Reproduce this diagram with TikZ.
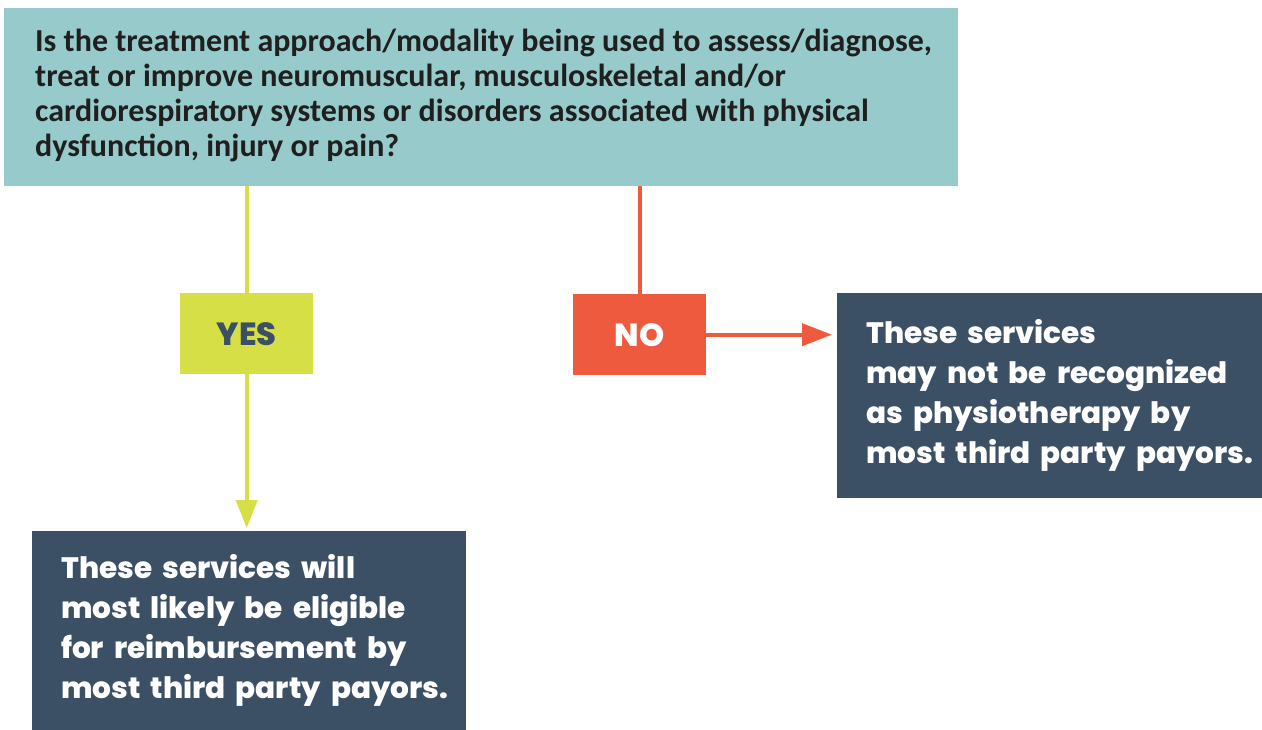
\documentclass[tikz,border=0pt]{standalone}
\usepackage{fontspec}
\usetikzlibrary{arrows.meta}
\newfontfamily\qfont{Carlito}
\newfontfamily\pfont{Poppins ExtraBold}[WordSpace=1.8]
\definecolor{qteal}{HTML}{97CACB}
\definecolor{yesgreen}{HTML}{D6DF45}
\definecolor{nored}{HTML}{EE5A3D}
\definecolor{navy}{HTML}{3C5065}
% left-aligned block of fixed width whose lines never wrap
\newcommand{\flushblock}[2]{\makebox[#1][l]{\begin{tabular}{@{}l@{}}#2\end{tabular}}}
\tikzset{
  question/.style={rectangle, fill=qteal, anchor=north west, inner xsep=31pt, inner ysep=0pt,
    minimum width=954pt, minimum height=178pt,
    font=\qfont\bfseries\fontsize{32}{35}\selectfont, text=black!88},
  outcome/.style={rectangle, fill=navy, anchor=north west, inner xsep=29pt, inner ysep=0pt,
    text=white, font=\pfont\fontsize{29.5}{40}\selectfont},
  answer/.style={rectangle, anchor=north west, inner sep=0pt, minimum width=133pt,
    minimum height=81pt, font=\pfont\fontsize{32}{34}\selectfont},
  yesline/.style={draw=yesgreen, line width=4pt},
  noline/.style={draw=nored, line width=4pt},
}
\begin{document}
\begin{tikzpicture}[x=1pt, y=-1pt]
\useasboundingbox (0,0) rectangle (1262,730);
\fill[white] (0,0) rectangle (1262,730);

\node[question] (q) at (4,8) {\flushblock{892pt}{Is the treatment approach/modality being used to assess/diagnose,\\
treat or improve neuromuscular, musculoskeletal and/or\\
cardiorespiratory systems or disorders associated with physical\\
dysfunction, injury or pain?}};

\node[answer, fill=yesgreen, text=navy] (yes) at (180,293) {YES};
\node[answer, fill=nored, text=white] (no) at (573,294) {NO};

\node[outcome, minimum width=434pt, minimum height=199pt] (elig) at (32,531)
  {\flushblock{376pt}{These services will\\ most likely be eligible\\ for reimbursement by\\ most third party payors.}};
\node[outcome, minimum width=425pt, minimum height=205pt] (notrec) at (837,293)
  {\flushblock{367pt}{These services\\ may not be recognized\\ as physiotherapy by\\ most third party payors.}};

\draw[yesline] (yes.north) -- (yes.north |- q.south);
\draw[yesline, -{Triangle[length=28pt, width=21pt]}, shorten >=3pt] (yes.south) -- (elig.north -| yes.south);
\draw[noline] (no.north) -- (no.north |- q.south);
\draw[noline, -{Triangle[length=30pt, width=22pt]}, shorten >=5pt] (no.east) -- (notrec.west |- no.east);
\end{tikzpicture}
\end{document}
